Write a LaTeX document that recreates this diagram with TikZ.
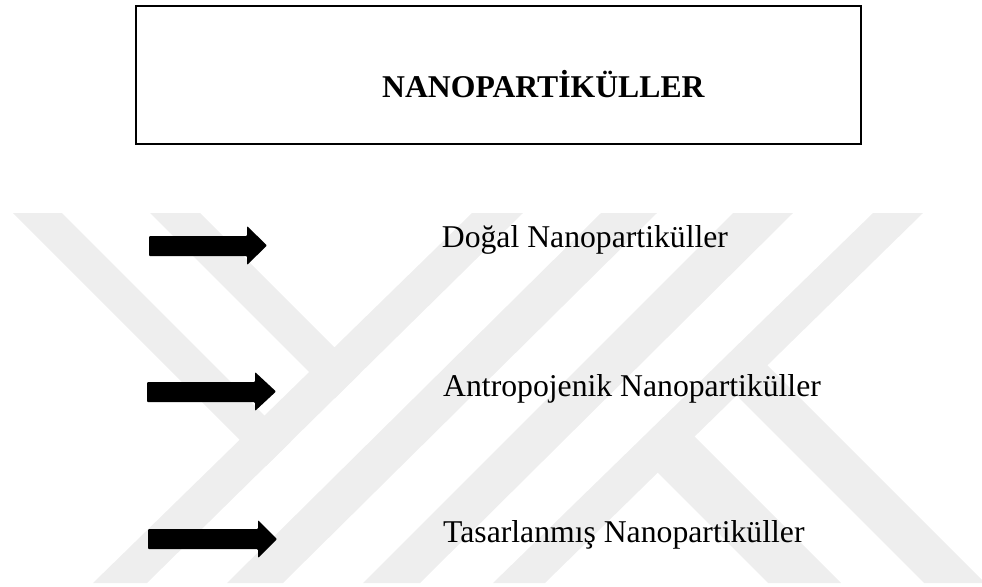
\documentclass[tikz,border=0pt]{standalone}
\usepackage{fontspec}
\setmainfont{Liberation Serif}
\definecolor{wmgray}{RGB}{238,238,238}
\tikzset{
  wmband/.style={fill=wmgray, draw=none},
  fatarrow/.style={fill=black, draw=none, rounded corners=1pt},
  itemtext/.style={anchor=base west, inner sep=0pt, font=\fontsize{31.7}{36}\selectfont},
  titlebox/.style={draw=black, line width=2pt, inner sep=0pt}
}
\begin{document}
\begin{tikzpicture}[x=1pt,y=-1pt]
\useasboundingbox (0,0) rectangle (982,586);
% watermark
\begin{scope}
\clip (0,0) rectangle (982,586);
\fill[wmband] (13,213) -- (62,213) -- (290.7,441.7) -- (266,466) -- cycle;
\fill[wmband] (150,213) -- (200,213) -- (360.2,373.2) -- (335,398) -- cycle;
\fill[wmband] (472,213) -- (523,213) -- (147,583) -- (93,583) -- cycle;
\fill[wmband] (601,213) -- (657,213) -- (283,583) -- (227,583) -- cycle;
\fill[wmband] (733,213) -- (793,213) -- (420,583) -- (363,583) -- cycle;
\fill[wmband] (873,213) -- (923,213) -- (545,583) -- (493,583) -- cycle;
\fill[wmband] (682,424) -- (841,583) -- (768,583) -- (645,460) -- cycle;
\fill[wmband] (754.8,352.8) -- (985,583) -- (924,583) -- (724,383) -- cycle;
\end{scope}
% title box
\node[titlebox, minimum width=725pt, minimum height=138pt] (box) at (498.5,75) {};
\node[anchor=base west, inner sep=0pt, font=\fontsize{31.7}{36}\selectfont\bfseries] (title) at (382,97) {NANOPARTİKÜLLER};
% arrows
\fill[fatarrow] (149,236) -- (247,236) -- (247,226) -- (267,245.5) -- (247,265) -- (247,256) -- (149,256) -- cycle;
\fill[fatarrow] (147,382) -- (255,382) -- (255,372) -- (276,391.5) -- (255,411) -- (255,402) -- (147,402) -- cycle;
\fill[fatarrow] (148,529) -- (258,529) -- (258,520) -- (277,539) -- (258,558) -- (258,549) -- (148,549) -- cycle;
% items
\node[itemtext] (t1) at (441.7,247) {Doğal Nanopartiküller};
\node[itemtext] (t2) at (443,396) {Antropojenik Nanopartiküller};
\node[itemtext] (t3) at (443,542) {Tasarlanmış Nanopartiküller};
\end{tikzpicture}
\end{document}
